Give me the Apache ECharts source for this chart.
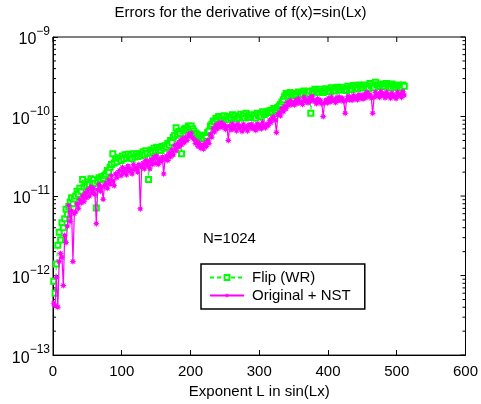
<!DOCTYPE html>
<html>
<head>
<meta charset="utf-8">
<script src="https://cdn.jsdelivr.net/npm/echarts@6/dist/echarts.min.js"></script>
<style>
html,body{margin:0;padding:0;background:#fff;}
#chart{width:481px;height:404px;}
</style>
</head>
<body>
<div id="chart"></div>
<script>
// ---- data ----
const exponentL = [
  1,3,5,7,9,11,13,15,17,19,21,23,25,27,29,31,
  33,35,37,39,41,43,45,47,49,51,53,55,57,59,61,63,
  65,67,69,71,73,75,77,79,81,83,85,87,89,91,93,95,
  97,99,101,103,105,107,109,111,113,115,117,119,121,123,125,127,
  129,131,133,135,137,139,141,143,145,147,149,151,153,155,157,159,
  161,163,165,167,169,171,173,175,177,179,181,183,185,187,189,191,
  193,195,197,199,201,203,205,207,209,211,213,215,217,219,221,223,
  225,227,229,231,233,235,237,239,241,243,245,247,249,251,253,255,
  257,259,261,263,265,267,269,271,273,275,277,279,281,283,285,287,
  289,291,293,295,297,299,301,303,305,307,309,311,313,315,317,319,
  321,323,325,327,329,331,333,335,337,339,341,343,345,347,349,351,
  353,355,357,359,361,363,365,367,369,371,373,375,377,379,381,383,
  385,387,389,391,393,395,397,399,401,403,405,407,409,411,413,415,
  417,419,421,423,425,427,429,431,433,435,437,439,441,443,445,447,
  449,451,453,455,457,459,461,463,465,467,469,471,473,475,477,479,
  481,483,485,487,489,491,493,495,497,499,501,503,505,507,509,511];

const flipWR = [
  8.5e-13,6.0e-13,1.4e-12,2.4e-12,3.5e-12,2.8e-12,4.6e-12,4.0e-12,5.2e-12,6.8e-12,5.9e-12,7.4e-12,8.4e-12,9.5e-12,8.0e-12,9.2e-12,
  1.0e-11,1.15e-11,1.05e-11,1.25e-11,1.15e-11,1.62e-11,1.3e-11,1.45e-11,1.35e-11,1.5e-11,1.4e-11,1.65e-11,1.5e-11,1.6e-11,1.45e-11,7.1e-12,
  1.55e-11,1.7e-11,1.6e-11,1.75e-11,1.66e-11,1.8e-11,1.9e-11,2.1e-11,2.0e-11,2.3e-11,2.5e-11,3.4e-11,2.6e-11,2.9e-11,2.7e-11,3.0e-11,
  3.0e-11,2.8e-11,3.2e-11,2.95e-11,3.3e-11,3.0e-11,3.35e-11,3.1e-11,3.2e-11,2.95e-11,3.4e-11,3.1e-11,3.35e-11,3.15e-11,3.4e-11,3.2e-11,
  3.4e-11,3.6e-11,3.3e-11,3.7e-11,3.45e-11,1.62e-11,3.5e-11,3.8e-11,3.6e-11,4.0e-11,3.7e-11,4.1e-11,3.8e-11,4.0e-11,3.75e-11,4.2e-11,
  4.0e-11,4.3e-11,4.1e-11,4.6e-11,4.4e-11,5.0e-11,4.7e-11,5.5e-11,5.8e-11,7.2e-11,6.0e-11,6.5e-11,6.1e-11,3.4e-11,6.6e-11,6.9e-11,
  7.1e-11,7.0e-11,7.6e-11,7.3e-11,7.6e-11,7.0e-11,6.6e-11,6.2e-11,6.0e-11,5.6e-11,5.8e-11,5.4e-11,5.6e-11,5.3e-11,5.8e-11,5.6e-11,
  6.3e-11,6.6e-11,7.6e-11,8.0e-11,8.8e-11,8.6e-11,9.5e-11,9.2e-11,1.0e-10,9.4e-11,1.0e-10,9.6e-11,1.02e-10,9.3e-11,9.8e-11,9.1e-11,
  1.0e-10,9.6e-11,1.05e-10,9.7e-11,1.02e-10,9.4e-11,1.0e-10,9.6e-11,1.07e-10,9.8e-11,1.03e-10,9.6e-11,1.1e-10,1.0e-10,1.04e-10,9.7e-11,
  1.05e-10,9.8e-11,1.02e-10,9.6e-11,1.1e-10,1.02e-10,1.06e-10,9.9e-11,1.15e-10,1.06e-10,1.08e-10,1.12e-10,1.17e-10,1.12e-10,1.2e-10,1.15e-10,
  1.26e-10,1.2e-10,1.22e-10,1.3e-10,1.36e-10,1.42e-10,1.52e-10,1.62e-10,1.8e-10,1.95e-10,1.9e-10,1.82e-10,2.0e-10,1.86e-10,1.92e-10,1.84e-10,
  1.95e-10,1.88e-10,2.04e-10,1.92e-10,1.98e-10,1.9e-10,2.1e-10,1.96e-10,2.02e-10,1.94e-10,2.08e-10,1.1e-10,2.1e-10,2.0e-10,2.2e-10,2.05e-10,
  2.12e-10,2.02e-10,2.2e-10,2.06e-10,2.0e-10,2.1e-10,2.24e-10,2.1e-10,2.16e-10,2.06e-10,2.3e-10,2.14e-10,2.22e-10,2.1e-10,2.34e-10,2.2e-10,
  2.26e-10,2.14e-10,2.34e-10,2.2e-10,2.22e-10,2.12e-10,2.4e-10,2.24e-10,2.3e-10,2.18e-10,2.45e-10,2.3e-10,2.36e-10,2.24e-10,2.5e-10,2.34e-10,
  2.4e-10,2.28e-10,2.5e-10,2.36e-10,2.34e-10,2.24e-10,2.6e-10,2.42e-10,2.4e-10,2.3e-10,2.7e-10,2.5e-10,2.5e-10,2.38e-10,2.57e-10,2.44e-10,
  2.5e-10,2.38e-10,2.6e-10,2.45e-10,2.4e-10,2.3e-10,2.57e-10,2.42e-10,2.45e-10,2.34e-10,2.5e-10,2.38e-10,2.4e-10,2.3e-10,2.5e-10,2.4e-10];

const originalNST = [
  4.5e-13,4.2e-13,9.5e-13,4.0e-13,1.5e-12,1.9e-12,1.7e-12,7.5e-13,3.2e-12,2.6e-12,4.2e-12,7.6e-12,4.8e-12,6.5e-12,1.5e-12,6.0e-12,
  6.3e-12,8.0e-12,7.0e-12,9.0e-12,8.2e-12,1.0e-11,8.5e-12,1.1e-11,9.5e-12,1.2e-11,1.0e-11,1.3e-11,1.1e-11,1.25e-11,1.05e-11,4.5e-12,
  1.2e-11,1.4e-11,1.15e-11,1.3e-11,9.1e-12,1.35e-11,1.45e-11,1.25e-11,1.6e-11,1.4e-11,1.8e-11,1.55e-11,1.35e-11,1.9e-11,1.7e-11,2.0e-11,
  2.1e-11,1.8e-11,2.3e-11,1.95e-11,2.2e-11,1.85e-11,2.4e-11,2.05e-11,2.2e-11,1.9e-11,2.5e-11,2.15e-11,2.3e-11,2.0e-11,2.5e-11,6.9e-12,
  2.3e-11,2.6e-11,2.2e-11,2.8e-11,2.4e-11,2.7e-11,2.2e-11,2.9e-11,2.5e-11,3.1e-11,2.6e-11,3.2e-11,2.5e-11,2.9e-11,2.7e-11,3.1e-11,
  1.9e-11,2.9e-11,3.2e-11,2.8e-11,3.5e-11,3.1e-11,3.8e-11,3.3e-11,4.3e-11,3.7e-11,4.6e-11,4.1e-11,5.0e-11,4.4e-11,5.3e-11,4.7e-11,
  5.5e-11,5.0e-11,6.0e-11,5.6e-11,6.2e-11,5.4e-11,5.2e-11,4.6e-11,4.9e-11,4.2e-11,4.6e-11,4.0e-11,4.4e-11,3.9e-11,4.6e-11,4.2e-11,
  5.0e-11,4.6e-11,6.0e-11,5.5e-11,7.1e-11,6.4e-11,7.8e-11,7.0e-11,8.2e-11,7.3e-11,8.4e-11,7.4e-11,7.9e-11,6.9e-11,7.5e-11,5.0e-11,
  7.6e-11,6.8e-11,8.1e-11,7.0e-11,7.7e-11,6.6e-11,8.0e-11,7.1e-11,7.5e-11,6.5e-11,8.0e-11,7.0e-11,7.4e-11,6.6e-11,7.9e-11,7.2e-11,
  8.0e-11,7.0e-11,7.4e-11,6.7e-11,8.1e-11,7.2e-11,7.8e-11,7.0e-11,8.5e-11,7.5e-11,7.2e-11,8.0e-11,7.7e-11,9.0e-11,8.4e-11,9.6e-11,
  1.0e-10,9.0e-11,6.3e-11,1.05e-10,1.12e-10,1.02e-10,1.26e-10,1.15e-10,1.35e-10,1.25e-10,1.5e-10,1.38e-10,1.58e-10,1.42e-10,1.52e-10,1.4e-10,
  1.6e-10,1.45e-10,1.68e-10,1.5e-10,1.55e-10,1.42e-10,1.75e-10,1.55e-10,1.62e-10,1.48e-10,1.72e-10,1.55e-10,1.8e-10,1.6e-10,1.58e-10,1.45e-10,
  1.68e-10,1.5e-10,1.6e-10,1.45e-10,1.0e-10,1.5e-10,1.62e-10,1.48e-10,1.7e-10,1.52e-10,1.76e-10,1.58e-10,1.62e-10,1.5e-10,1.74e-10,1.6e-10,
  1.76e-10,1.58e-10,1.7e-10,1.55e-10,1.1e-10,1.62e-10,1.8e-10,1.62e-10,1.74e-10,1.6e-10,1.85e-10,1.66e-10,1.78e-10,1.62e-10,1.88e-10,1.7e-10,
  1.84e-10,1.66e-10,1.92e-10,1.72e-10,2.02e-10,1.8e-10,1.88e-10,1.7e-10,1.1e-10,1.75e-10,2.02e-10,1.82e-10,1.92e-10,1.74e-10,2.06e-10,1.85e-10,
  1.92e-10,1.72e-10,2.02e-10,1.8e-10,1.88e-10,1.7e-10,1.97e-10,1.78e-10,1.84e-10,1.68e-10,2.02e-10,1.82e-10,1.92e-10,1.74e-10,2.06e-10,1.86e-10];

const xTicks = [0,100,200,300,400,500,600];
const yDecades = [1e-13,1e-12,1e-11,1e-10,1e-9];
const seriesNames = ['Flip (WR)','Original + NST'];
const titleText = 'Errors for the derivative of f(x)=sin(Lx)';
const xName = 'Exponent L in sin(Lx)';
const annotation = 'N=1024';

// ---- styling helpers ----
const FONT = '"Liberation Sans", Arial, Helvetica, sans-serif';
function starPath(){
  let p = 'path://';
  for (let k=0;k<16;k++){
    const a = k*Math.PI/8 - Math.PI/2;
    const r = (k%2===0)?10:5;
    p += (k===0?'M':'L') + (r*Math.cos(a)).toFixed(2) + ',' + (r*Math.sin(a)).toFixed(2);
  }
  return p + 'Z';
}
// minor log ticks (2..9 within each decade)
const minorTickVals = [];
for (let d=0; d<yDecades.length-1; d++){
  for (let m=2;m<=9;m++) minorTickVals.push(yDecades[d]*m);
}
const X0 = xTicks[0], X1 = xTicks[xTicks.length-1];
const Y0 = yDecades[0], Y1 = yDecades[yDecades.length-1];

const chart = echarts.init(document.getElementById('chart'), null, {renderer:'canvas'});
const pairs = (ys)=> exponentL.map((L,i)=>[L, ys[i]]);

const supMap = v => {
  const e = Math.round(Math.log10(v));
  return '{b|10}{s|' + (e<0?'\u2212':'') + Math.abs(e) + '}';
};

function tickLine(x1,y1,x2,y2){
  return {type:'line',shape:{x1:x1,y1:y1,x2:x2,y2:y2},style:{stroke:'#000',lineWidth:1}};
}

chart.setOption({
  animation:false,
  backgroundColor:'#fff',
  textStyle:{fontFamily:FONT},
  grid:{left:53,right:12,top:37,bottom:41,containLabel:false,show:true,borderColor:'#000',borderWidth:1,backgroundColor:'transparent'},
  xAxis:{
    type:'value',min:X0,max:X1,interval:100,
    name:xName,nameLocation:'middle',nameGap:24,
    nameTextStyle:{fontSize:15,color:'#000',fontFamily:FONT},
    axisLine:{show:true,onZero:false,lineStyle:{color:'#000',width:1}},
    axisTick:{show:true,inside:true,length:5,lineStyle:{color:'#000'}},
    axisLabel:{show:true,fontSize:15,color:'#000',margin:9,fontFamily:FONT},
    splitLine:{show:false}
  },
  yAxis:{
    type:'log',logBase:10,min:Y0,max:Y1,
    axisLine:{show:true,onZero:false,lineStyle:{color:'#000',width:1}},
    axisTick:{show:true,inside:true,length:5,lineStyle:{color:'#000'}},
    axisLabel:{show:true,margin:3,color:'#000',formatter:supMap,
      rich:{
        b:{fontSize:16,fontFamily:FONT,color:'#000',verticalAlign:'bottom',lineHeight:22},
        s:{fontSize:12,fontFamily:FONT,color:'#000',verticalAlign:'top',lineHeight:22}
      }},
    splitLine:{show:false}
  },
  legend:{
    data:seriesNames,
    orient:'vertical',left:201,top:264,
    backgroundColor:'#fff',borderColor:'#000',borderWidth:1.5,borderRadius:0,
    padding:[6,14,6,8],itemGap:3,itemWidth:34,itemHeight:6,
    textStyle:{fontSize:15,color:'#000',fontFamily:FONT,padding:[0,0,0,3]}
  },
  graphic:[
    {type:'text',left:'center',top:5,style:{text:titleText,fontSize:15,fontFamily:FONT,fill:'#000',textAlign:'center'},
     x:20},
    {type:'text',left:203,top:231,style:{text:annotation,fontSize:15,fontFamily:FONT,fill:'#000'}}
  ],
  series:[
    {
      name:seriesNames[0],type:'line',data:pairs(flipWR),
      symbol:'emptyRect',symbolSize:5,
      lineStyle:{color:'#00ff00',width:1,type:[4,3]},
      itemStyle:{color:'#00ff00',borderColor:'#00ff00',borderWidth:1},
      emphasis:{disabled:true},z:2
    },
    {
      name:seriesNames[1],type:'line',data:pairs(originalNST),
      symbol:starPath(),symbolSize:7,
      lineStyle:{color:'#ff00ff',width:1.2},
      itemStyle:{color:'#ff00ff'},
      emphasis:{disabled:true},z:3
    },
    {
      // y-axis minor ticks (left & right) and major ticks on the right
      name:'yTicks',type:'custom',silent:true,
      data:minorTickVals.map(v=>[X0,v,3]).concat(yDecades.map(v=>[X0,v,5])),
      renderItem:function(params,api){
        const v = api.value(1), len = api.value(2);
        const pl = api.coord([X0, v]);
        const pr = api.coord([X1, v]);
        const kids = [tickLine(pr[0],pr[1],pr[0]-len,pr[1])];
        if (len < 5) kids.push(tickLine(pl[0],pl[1],pl[0]+len,pl[1]));
        return {type:'group',children:kids};
      },
      clip:false,z:1
    },
    {
      // x-axis major ticks on the top edge
      name:'xTopTicks',type:'custom',silent:true,
      data:xTicks.map(x=>[x,Y1]),
      renderItem:function(params,api){
        const p = api.coord([api.value(0), Y1]);
        return tickLine(p[0],p[1],p[0],p[1]+5);
      },
      clip:false,z:1
    }
  ]
});
</script>
</body>
</html>
